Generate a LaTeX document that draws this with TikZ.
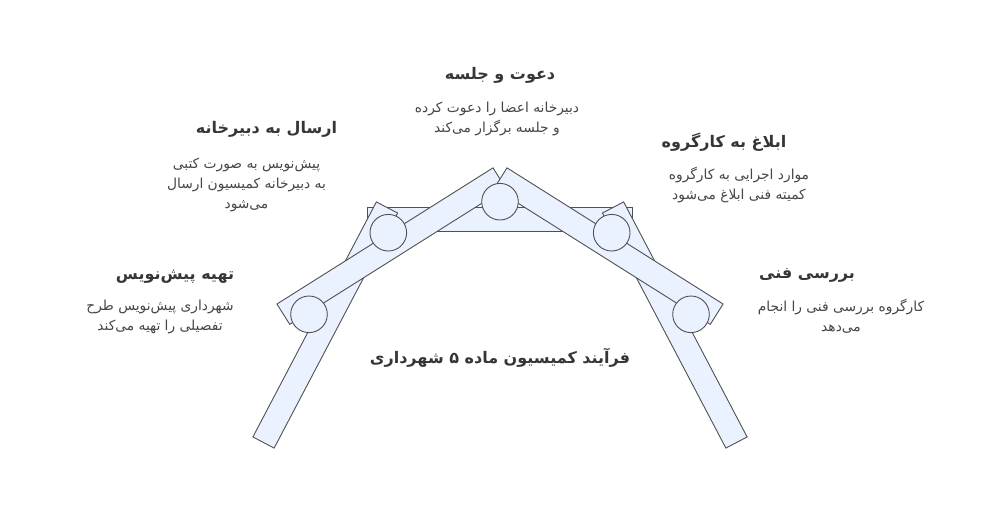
\documentclass[tikz,border=0pt]{standalone}
\usepackage{fontspec}
\newfontfamily\fa[Script=Arabic]{DejaVu Sans}
\TeXXeTstate=1
\usetikzlibrary{positioning}
\definecolor{barfill}{HTML}{EBF2FF}
\definecolor{barline}{HTML}{505050}
\definecolor{headtext}{HTML}{363636}
\definecolor{bodytext}{HTML}{464646}
\newcommand{\rtxt}[1]{\beginR #1\endR}
\tikzset{
  bar/.style={draw=barline, fill=barfill, line width=0.9pt, minimum height=24pt, inner sep=0pt},
  joint/.style={circle, draw=barline, fill=barfill, line width=0.9pt, minimum size=36.6pt, inner sep=0pt},
  head/.style={font=\fa\bfseries\fontsize{16}{19}\selectfont, text=headtext, inner sep=0pt},
  body/.style={font=\fa\fontsize{13.8}{20}\selectfont, text=bodytext, align=center, inner sep=0pt}
}

\begin{document}
\begin{tikzpicture}[x=1pt, y=-1pt]
  \useasboundingbox (0,0) rectangle (1000,530);
  % the arch
  \node[bar, minimum width=265.4pt, minimum height=24pt] (beam) at (500,219.7) {};
  \node[bar, minimum width=265.5pt, rotate=62.28] (legL) at (325.25,325) {};
  \node[bar, minimum width=265.5pt, rotate=-62.28] (legR) at (674.75,325) {};
  \node[bar, minimum width=255.4pt, rotate=32.22] (armL) at (391.35,246.1) {};
  \node[bar, minimum width=255.4pt, rotate=-32.22] (armR) at (608.65,246.1) {};
  \node[joint] (j1) at (309,314.3) {};
  \node[joint] (j2) at (388.3,232.7) {};
  \node[joint] (j3) at (500,201.7) {};
  \node[joint] (j4) at (611.7,232.7) {};
  \node[joint] (j5) at (691,314.3) {};

  % steps
  \node[head] (meetT) at (500,75) {\rtxt{دعوت و جلسه}};
  \node[body, below=19pt of meetT, xshift=-3pt] (meetB)
    {\rtxt{دبیرخانه اعضا را دعوت کرده}\\\rtxt{و جلسه برگزار می‌کند}};
  \node[head] (sendT) at (266.5,129) {\rtxt{ارسال به دبیرخانه}};
  \node[body, below=21pt of sendT, xshift=-20pt] (sendB)
    {\rtxt{پیش‌نویس به صورت کتبی}\\\rtxt{به دبیرخانه کمیسیون ارسال}\\\rtxt{می‌شود}};
  \node[head] (draftT) at (175,277) {\rtxt{تهیه پیش‌نویس}};
  \node[body, below=16pt of draftT, xshift=-15pt] (draftB)
    {\rtxt{شهرداری پیش‌نویس طرح}\\\rtxt{تفصیلی را تهیه می‌کند}};
  \node[head] (notifyT) at (724,142) {\rtxt{ابلاغ به کارگروه}};
  \node[body, below=16pt of notifyT, xshift=15pt] (notifyB)
    {\rtxt{موارد اجرایی به کارگروه}\\\rtxt{کمیته فنی ابلاغ می‌شود}};
  \node[head] (reviewT) at (807,275) {\rtxt{بررسی فنی}};
  \node[body, below=17pt of reviewT, xshift=34pt] (reviewB)
    {\rtxt{کارگروه بررسی فنی را انجام}\\\rtxt{می‌دهد}};

  \node[head] (mainT) at (500,358) {\rtxt{فرآیند کمیسیون ماده ۵ شهرداری}};
\end{tikzpicture}
\end{document}
